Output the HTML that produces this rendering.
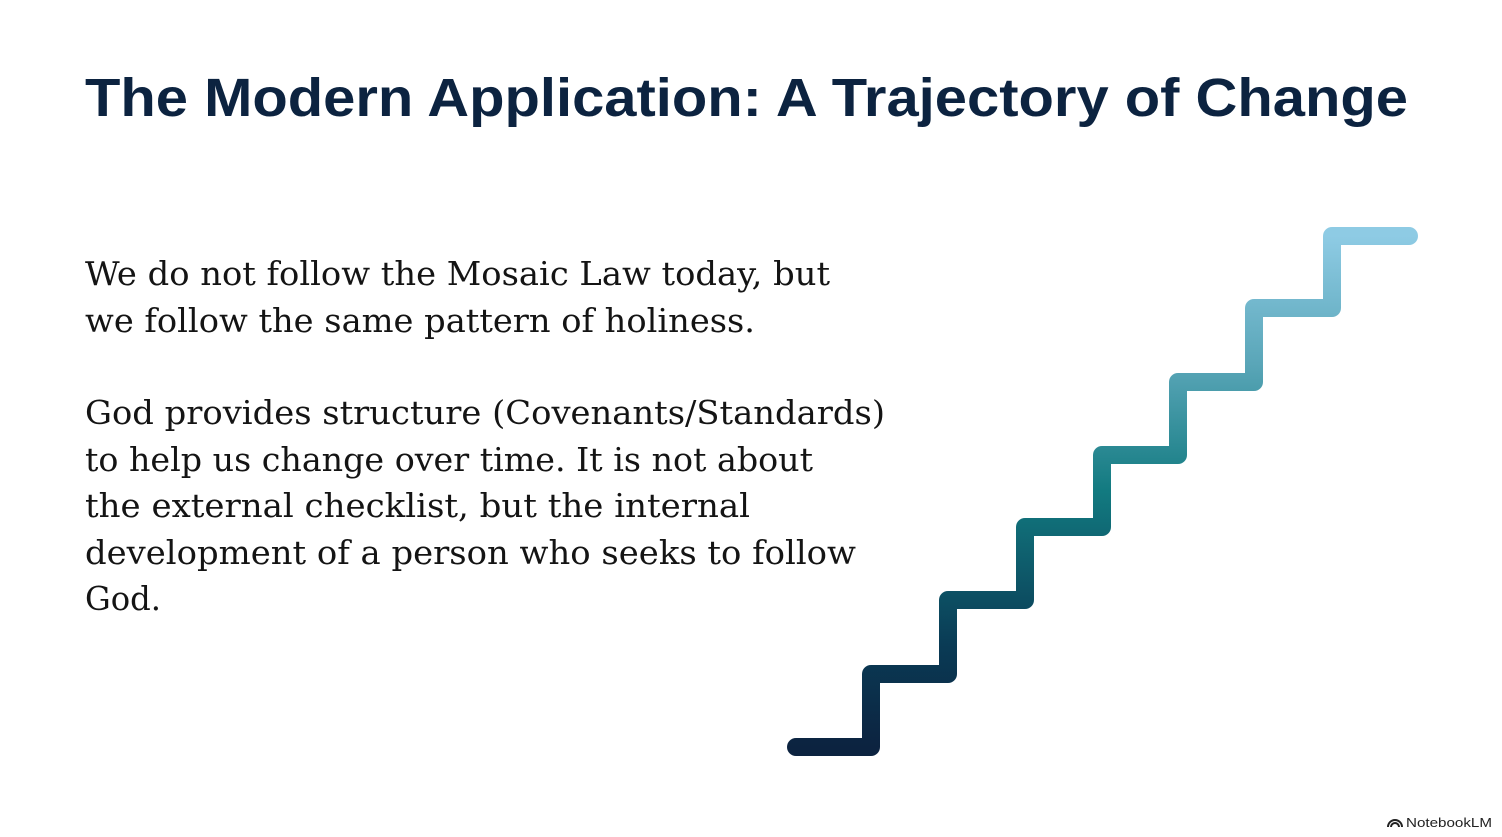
<!DOCTYPE html>
<html><head><meta charset="utf-8"><style>
html,body{margin:0;padding:0;background:#fff;}
svg{display:block}
</style></head><body>
<svg width="1502" height="837" viewBox="0 0 1502 837" xmlns="http://www.w3.org/2000/svg">
<defs>
<linearGradient id="g" x1="0" y1="747" x2="0" y2="236" gradientUnits="userSpaceOnUse">
<stop offset="0" stop-color="#0c2340"/>
<stop offset="0.2" stop-color="#0a3b55"/>
<stop offset="0.5" stop-color="#127a80"/>
<stop offset="0.75" stop-color="#5aa6b8"/>
<stop offset="1" stop-color="#8ecbe4"/>
</linearGradient>
</defs>
<rect width="1502" height="837" fill="#fff"/>
<text x="85" y="116" font-family="Liberation Sans, sans-serif" font-weight="bold" font-size="54" fill="#0c2340" textLength="1323" lengthAdjust="spacingAndGlyphs">The Modern Application: A Trajectory of Change</text>
<g font-family="DejaVu Serif, Liberation Serif, serif" font-size="33" fill="#141414">
<text x="85" y="285" textLength="745" lengthAdjust="spacingAndGlyphs">We do not follow the Mosaic Law today, but</text>
<text x="85" y="332" textLength="670" lengthAdjust="spacingAndGlyphs">we follow the same pattern of holiness.</text>
<text x="85" y="424" textLength="800" lengthAdjust="spacingAndGlyphs">God provides structure (Covenants/Standards)</text>
<text x="85" y="471" textLength="728" lengthAdjust="spacingAndGlyphs">to help us change over time. It is not about</text>
<text x="85" y="517" textLength="665" lengthAdjust="spacingAndGlyphs">the external  checklist, but the internal</text>
<text x="85" y="564" textLength="771" lengthAdjust="spacingAndGlyphs">development of a person who seeks to follow</text>
<text x="85" y="610" textLength="76" lengthAdjust="spacingAndGlyphs">God.</text>
</g>
<path d="M796 747 H871 V674 H948 V600 H1025 V527 H1102 V455 H1178 V382 H1254 V308 H1332 V236 H1409" fill="none" stroke="url(#g)" stroke-width="18" stroke-linecap="round" stroke-linejoin="round"/>
<g transform="translate(1388,815)">
<path d="M0 12 A7 7 0 0 1 14 12" fill="none" stroke="#222" stroke-width="2"/>
<path d="M3 12 A4 4 0 0 1 11 12" fill="none" stroke="#222" stroke-width="2"/>
</g>
<text x="1406" y="827" font-family="Liberation Sans, sans-serif" font-size="13" fill="#222" textLength="86" lengthAdjust="spacingAndGlyphs">NotebookLM</text>
</svg>
</body></html>
